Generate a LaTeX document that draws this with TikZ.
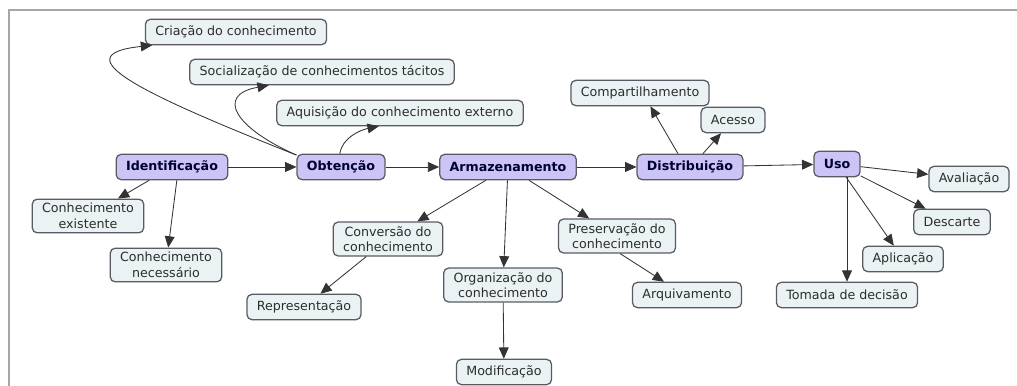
\documentclass[tikz,border=0pt]{standalone}
\usepackage{fontspec}
\setmainfont{DejaVu Sans}
\usetikzlibrary{arrows.meta}
\definecolor{corEtapa}{RGB}{204,196,245}
\definecolor{corTarefa}{RGB}{234,242,244}
\definecolor{corBorda}{RGB}{90,90,100}
\definecolor{corTexto}{RGB}{45,45,45}
\tikzset{
	caixa/.style={draw=corBorda,line width=0.9pt,rounded corners=3.5pt,fill=corTarefa,
		text=corTexto,font=\fontsize{9}{11}\selectfont,align=center,
		inner xsep=7pt,inner ysep=3pt,minimum height=18pt},
	etapa/.style={caixa,fill=corEtapa,text=black!80!blue,font=\fontsize{9}{11}\selectfont\bfseries},
	seta/.style={draw=black!80,line width=0.6pt,-{Triangle[length=8pt,width=7pt]}}
}

\begin{document}
\begin{tikzpicture}[x=0.025cm,y=-0.025cm]
	\useasboundingbox (0,0) rectangle (1017,386);
	\draw[line width=1.5pt,gray!70] (9,386) -- (9,10) -- (1017,10);
	% etapas
	\node[etapa] (ident) at (172,167) {Identificação};
	\node[etapa] (obt) at (341,167) {Obtenção};
	\node[etapa] (arm) at (508,167) {Armazenamento};
	\node[etapa] (dist) at (690,167) {Distribuição};
	\node[etapa] (uso) at (837,164) {Uso};
	% tarefas
	\node[caixa] (cria) at (236,32) {Criação do conhecimento};
	\node[caixa] (soc) at (322,72) {Socialização de conhecimentos tácitos};
	\node[caixa] (aqui) at (400,113) {Aquisição do conhecimento externo};
	\node[caixa] (cex) at (88,216) {Conhecimento\\existente};
	\node[caixa] (cnec) at (166,265) {Conhecimento\\necessário};
	\node[caixa] (conv) at (388,239) {Conversão do\\conhecimento};
	\node[caixa] (repr) at (304,307) {Representação};
	\node[caixa] (org) at (503,285) {Organização do\\conhecimento};
	\node[caixa] (modif) at (504,372) {Modificação};
	\node[caixa] (pres) at (617,236) {Preservação do\\conhecimento};
	\node[caixa] (arq) at (687,295) {Arquivamento};
	\node[caixa] (comp) at (640,93) {Compartilhamento};
	\node[caixa] (aces) at (733,120) {Acesso};
	\node[caixa] (aval) at (969,179) {Avaliação};
	\node[caixa] (desc) at (952,222) {Descarte};
	\node[caixa] (apli) at (903,259) {Aplicação};
	\node[caixa] (tom) at (847,295) {Tomada de decisão};
	% ligacoes
	\draw[seta] (ident) -- (obt);
	\draw[seta] (obt) -- (arm);
	\draw[seta] (arm) -- (dist);
	\draw[seta] (dist) -- (uso);
	\draw[seta] (ident) -- (cex);
	\draw[seta] (ident.-70) -- (cnec);
	\draw[seta] (obt.165) .. controls (145,95) and (60,55) .. (cria.189);
	\draw[seta] (obt.165) .. controls (235,128) and (215,95) .. (soc.194);
	\draw[seta] (obt.95) .. controls (342,138) and (360,130) .. (aqui.-148);
	\draw[seta] (arm) -- (conv);
	\draw[seta] (arm) -- (org);
	\draw[seta] (arm) -- (pres);
	\draw[seta] (conv) -- (repr);
	\draw[seta] (org) -- (modif);
	\draw[seta] (pres.-80) -- (arq.150);
	\draw[seta] (dist.132) -- (comp.-52);
	\draw[seta] (dist.46) -- (aces.-132);
	\draw[seta] (uso) -- (aval);
	\draw[seta] (uso) -- (desc);
	\draw[seta] (uso) -- (apli);
	\draw[seta] (tom.north |- uso.south) -- (tom.north);
\end{tikzpicture}
\end{document}
